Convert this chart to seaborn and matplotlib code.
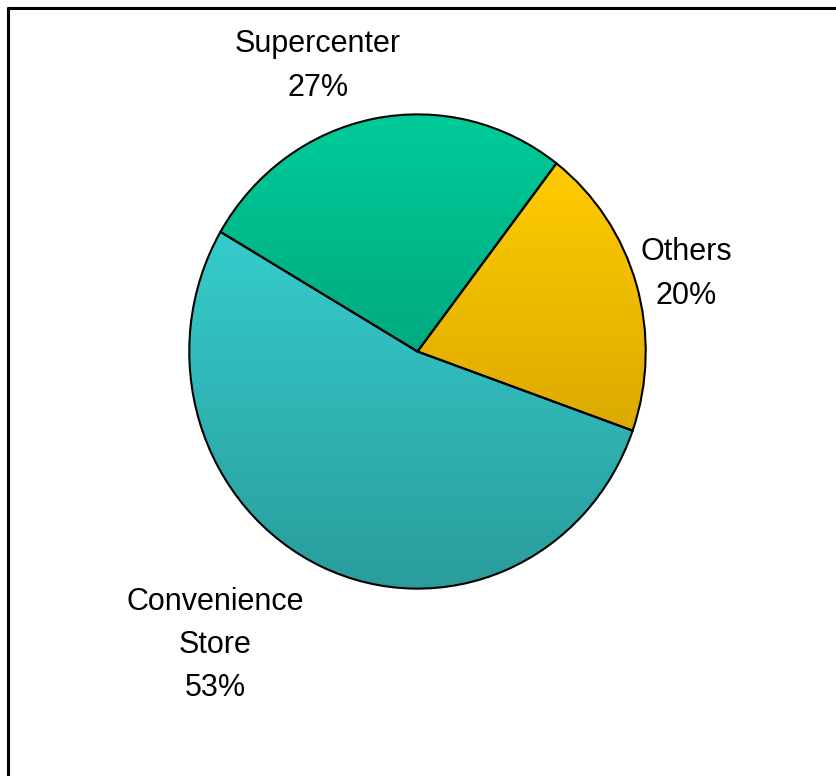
import numpy as np
import seaborn as sns
import matplotlib.pyplot as plt
from matplotlib.colors import LinearSegmentedColormap
from matplotlib.lines import Line2D

# data
labels = ["Others", "Supercenter", "Convenience\nStore"]
shares = [20, 27, 53]
top_colors = ["#FFCC00", "#00CC99", "#36CCCC"]
bottom_colors = ["#DCA900", "#00AA80", "#2A9C9C"]

sns.set_style("white")
plt.rcParams["font.family"] = ["Liberation Sans", "DejaVu Sans"]

W, H = 836, 776
fig = plt.figure(figsize=(W / 100, H / 100), dpi=100)

# axes placed so the (slightly oval) pie fills it
left, right, top, bottom = 187, 648, 112, 591
ax = fig.add_axes([left / W, (H - bottom) / H, (right - left) / W, (bottom - top) / H])

wedges, _ = ax.pie(
    shares,
    startangle=-19.5,
    counterclock=True,
    colors=top_colors,
    wedgeprops=dict(edgecolor="black", linewidth=1.5),
)
ax.set_aspect("auto")
ax.axis("off")

# vertical gradient fill for each slice
for w, c_top, c_bot in zip(wedges, top_colors, bottom_colors):
    w.set_facecolor("none")
    verts = w.get_path().vertices
    ymin, ymax = verts[:, 1].min(), verts[:, 1].max()
    cmap = LinearSegmentedColormap.from_list("g", [c_bot, c_top])
    grad = np.linspace(0, 1, 256).reshape(-1, 1)
    im = ax.imshow(grad, cmap=cmap, origin="lower", aspect="auto",
                   extent=(-1, 1, ymin, ymax), zorder=0.5)
    im.set_clip_path(w)
ax.set_xlim(-1.01, 1.01)
ax.set_ylim(-1.01, 1.01)

# slice labels
pos = [(686, 274), (318, 66), (215, 645)]
for lab, s, (px, py) in zip(labels, shares, pos):
    fig.text(px / W, 1 - py / H, f"{lab}\n{s}%", ha="center", va="center",
             fontsize=22, linespacing=1.58, color="black")

# chart frame (left and top edges visible)
fig.add_artist(Line2D([8 / W, 8 / W], [0, 1 - 8 / H], color="black", lw=2.2,
                      transform=fig.transFigure))
fig.add_artist(Line2D([8 / W, 1], [1 - 8 / H, 1 - 8 / H], color="black", lw=2.2,
                      transform=fig.transFigure))

fig.savefig("out.png", dpi=100)
